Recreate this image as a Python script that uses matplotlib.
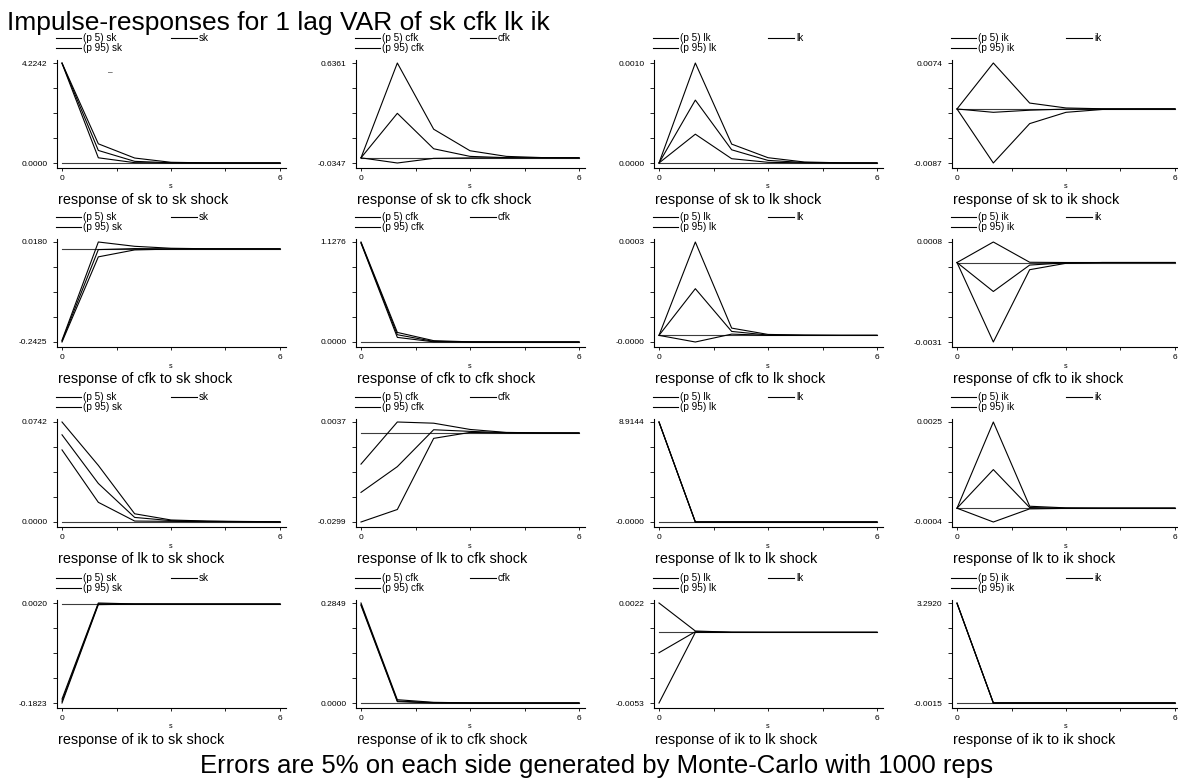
import numpy as np
import matplotlib
matplotlib.use("Agg")
import matplotlib.pyplot as plt
from matplotlib.lines import Line2D

plt.rcParams['font.family'] = ['Liberation Sans', 'DejaVu Sans']

variables = ["sk", "cfk", "lk", "ik"]
steps = [0, 1, 2, 3, 4, 5, 6]
main_title = "Impulse-responses for 1 lag VAR of " + " ".join(variables)
note = "Errors are 5% on each side generated by Monte-Carlo with 1000 reps"

# ---- response of sk ----
sk_sk_p95 = [4.2242, 0.81, 0.21, 0.030, 0.006, 0.002, 0.001]
sk_sk_irf = [4.2180, 0.53, 0.07, 0.010, 0.002, 0.0005, 0.0001]
sk_sk_p5 = [4.2100, 0.22, 0.014, 0.001, 0.0002, 0.0, 0.0]

sk_cfk_p95 = [0.0, 0.6361, 0.192, 0.0475, 0.0097, 0.0015, 0.0003]
sk_cfk_irf = [0.0, 0.2985, 0.0608, 0.0097, 0.0010, 0.0002, 0.0]
sk_cfk_p5 = [0.0, -0.0347, -0.0036, -0.0005, -0.0001, 0.0, 0.0]

sk_lk_p95 = [0.0, 0.00100, 0.000189, 0.000053, 0.000010, 0.000002, 0.0]
sk_lk_irf = [0.0, 0.000629, 0.000132, 0.000026, 0.000005, 0.000001, 0.0]
sk_lk_p5 = [0.0, 0.000288, 0.000043, 0.000007, 0.000001, 0.0, 0.0]

sk_ik_p95 = [0.0, 0.0074, 0.00095, 0.00016, 0.00003, 0.0, 0.0]
sk_ik_irf = [0.0, -0.00054, -0.00020, -0.00002, 0.0, 0.0, 0.0]
sk_ik_p5 = [0.0, -0.0087, -0.00236, -0.00054, -0.00008, -0.00001, 0.0]

# ---- response of cfk ----
cfk_sk_p95 = [-0.2380, 0.0180, 0.0068, 0.0017, 0.0004, 0.0001, 0.0]
cfk_sk_irf = [-0.2400, -0.0018, 0.0008, 0.0002, 0.0, 0.0, 0.0]
cfk_sk_p5 = [-0.2425, -0.0207, -0.0026, -0.0005, -0.0001, 0.0, 0.0]

cfk_cfk_p95 = [1.1276, 0.108, 0.015, 0.002, 0.0003, 0.0, 0.0]
cfk_cfk_irf = [1.1200, 0.082, 0.007, 0.001, 0.0001, 0.0, 0.0]
cfk_cfk_p5 = [1.1150, 0.052, 0.002, 0.0, 0.0, 0.0, 0.0]

cfk_lk_p95 = [0.0, 0.000296, 0.000023, 0.000003, 0.000001, 0.0, 0.0]
cfk_lk_irf = [0.0, 0.000148, 0.0000125, 0.000001, 0.0, 0.0, 0.0]
cfk_lk_p5 = [0.0, -0.000021, 0.000004, 0.0, 0.0, 0.0, 0.0]

cfk_ik_p95 = [0.0, 0.0008, 0.00001, 0.0, 0.0, 0.0, 0.0]
cfk_ik_irf = [0.0, -0.00113, -0.00010, -0.00001, 0.0, 0.0, 0.0]
cfk_ik_p5 = [0.0, -0.0031, -0.00028, -0.00003, 0.0, 0.0, 0.0]

# ---- response of lk ----
lk_sk_p95 = [0.0742, 0.0420, 0.0061, 0.0015, 0.0007, 0.0004, 0.0002]
lk_sk_irf = [0.0647, 0.0286, 0.0034, 0.0010, 0.0005, 0.0002, 0.0001]
lk_sk_p5 = [0.0535, 0.0146, 0.0007, 0.0005, 0.0002, 0.0001, 0.0]

lk_cfk_p95 = [-0.01045, 0.0037, 0.0033, 0.0012, 0.0002, 0.00005, 0.0]
lk_cfk_irf = [-0.01995, -0.0113, 0.0011, 0.00055, 0.0001, 0.0, 0.0]
lk_cfk_p5 = [-0.0299, -0.0257, -0.0018, 0.0002, 0.0, 0.0, 0.0]

lk_lk_p95 = [8.9144, 0.0001, 0.0, 0.0, 0.0, 0.0, 0.0]
lk_lk_irf = [8.9100, 0.0, 0.0, 0.0, 0.0, 0.0, 0.0]
lk_lk_p5 = [8.9050, -0.00002, 0.0, 0.0, 0.0, 0.0, 0.0]

lk_ik_p95 = [0.0, 0.0025, 0.000057, 0.00001, 0.0, 0.0, 0.0]
lk_ik_irf = [0.0, 0.00112, 0.000019, 0.0, 0.0, 0.0, 0.0]
lk_ik_p5 = [0.0, -0.0004, -0.000019, -0.000005, 0.0, 0.0, 0.0]

# ---- response of ik ----
ik_sk_p95 = [-0.1750, 0.0020, 0.0003, 0.0001, 0.0, 0.0, 0.0]
ik_sk_irf = [-0.1790, 0.0006, 0.0001, 0.0, 0.0, 0.0, 0.0]
ik_sk_p5 = [-0.1823, -0.0010, -0.0001, 0.0, 0.0, 0.0, 0.0]

ik_cfk_p95 = [0.2849, 0.0094, 0.0019, 0.0004, 0.0001, 0.0, 0.0]
ik_cfk_irf = [0.2810, 0.0057, 0.0009, 0.0002, 0.0, 0.0, 0.0]
ik_cfk_p5 = [0.2780, 0.0038, 0.0002, 0.0, 0.0, 0.0, 0.0]

ik_lk_p95 = [0.0022, 0.0001, 0.00001, 0.0, 0.0, 0.0, 0.0]
ik_lk_irf = [-0.00153, 0.00005, 0.0, 0.0, 0.0, 0.0, 0.0]
ik_lk_p5 = [-0.0053, 0.0, 0.0, 0.0, 0.0, 0.0, 0.0]

ik_ik_p95 = [3.2920, 0.0030, 0.0005, 0.0, 0.0, 0.0, 0.0]
ik_ik_irf = [3.2850, 0.0005, 0.0, 0.0, 0.0, 0.0, 0.0]
ik_ik_p5 = [3.2780, -0.0015, -0.0002, 0.0, 0.0, 0.0, 0.0]

bands = {
    ("sk", "sk"): (sk_sk_p5, sk_sk_irf, sk_sk_p95),
    ("sk", "cfk"): (sk_cfk_p5, sk_cfk_irf, sk_cfk_p95),
    ("sk", "lk"): (sk_lk_p5, sk_lk_irf, sk_lk_p95),
    ("sk", "ik"): (sk_ik_p5, sk_ik_irf, sk_ik_p95),
    ("cfk", "sk"): (cfk_sk_p5, cfk_sk_irf, cfk_sk_p95),
    ("cfk", "cfk"): (cfk_cfk_p5, cfk_cfk_irf, cfk_cfk_p95),
    ("cfk", "lk"): (cfk_lk_p5, cfk_lk_irf, cfk_lk_p95),
    ("cfk", "ik"): (cfk_ik_p5, cfk_ik_irf, cfk_ik_p95),
    ("lk", "sk"): (lk_sk_p5, lk_sk_irf, lk_sk_p95),
    ("lk", "cfk"): (lk_cfk_p5, lk_cfk_irf, lk_cfk_p95),
    ("lk", "lk"): (lk_lk_p5, lk_lk_irf, lk_lk_p95),
    ("lk", "ik"): (lk_ik_p5, lk_ik_irf, lk_ik_p95),
    ("ik", "sk"): (ik_sk_p5, ik_sk_irf, ik_sk_p95),
    ("ik", "cfk"): (ik_cfk_p5, ik_cfk_irf, ik_cfk_p95),
    ("ik", "lk"): (ik_lk_p5, ik_lk_irf, ik_lk_p95),
    ("ik", "ik"): (ik_ik_p5, ik_ik_irf, ik_ik_p95),
}

# ---- layout (pixels) ----
W, H = 1178, 778
col_x0 = [62, 361, 659, 957]      # pixel of s=0 in each column
row_top = [63, 242, 422, 603]     # pixel of data max in each row
data_w, data_h = 218, 100
pad_l, pad_r, pad_t, pad_b = 5, 6, 3, 5

def fx(px):
    return px / W

def fy(py):
    return 1 - py / H

fig = plt.figure(figsize=(W / 100, H / 100), dpi=100)
fig.patch.set_facecolor("white")

span = steps[-1] - steps[0]
for i, resp in enumerate(variables):
    for j, shock in enumerate(variables):
        p5, irf, p95 = bands[(resp, shock)]
        x0 = col_x0[j]
        yt = row_top[i]
        ax = fig.add_axes([fx(x0 - pad_l), fy(yt + data_h + pad_b),
                           (pad_l + data_w + pad_r) / W,
                           (pad_t + data_h + pad_b) / H])
        allv = np.concatenate([p5, irf, p95, [0.0]])
        ymin, ymax = allv.min(), allv.max()
        rng = ymax - ymin
        ax.set_ylim(ymin - rng * pad_b / data_h, ymax + rng * pad_t / data_h)
        ax.set_xlim(steps[0] - span * pad_l / data_w, steps[-1] + span * pad_r / data_w)

        ax.plot([steps[0], steps[-1]], [0, 0], color="#3c3c3c", lw=0.8, zorder=1)
        for series in (p5, irf, p95):
            ax.plot(steps, series, color="black", lw=0.8, zorder=2)

        for side in ("top", "right"):
            ax.spines[side].set_visible(False)
        for side in ("left", "bottom"):
            ax.spines[side].set_linewidth(0.8)

        xt = np.linspace(steps[0], steps[-1], 5)
        ax.set_xticks(xt)
        ax.set_xticklabels([str(steps[0]), "", "", "", str(steps[-1])])
        yt_vals = np.linspace(ymin, ymax, 5)
        ax.set_yticks(yt_vals)
        ax.set_yticklabels([f"{ymin:.4f}", "", "", "", f"{ymax:.4f}"])
        ax.tick_params(axis="x", direction="out", length=2.5, width=0.6,
                       pad=2.3, labelsize=6)
        ax.tick_params(axis="y", direction="out", length=2.9, width=0.6,
                       pad=4.0, labelsize=6)

        ax.annotate("s", xy=((steps[0] + steps[-1]) / 2, 0),
                    xycoords=ax.get_xaxis_transform(),
                    xytext=(0, -19), textcoords="offset pixels",
                    ha="center", va="center", fontsize=5.2)

        axis_bottom = yt + data_h + pad_b
        fig.text(fx(x0 - 4), fy(axis_bottom + 36),
                 f"response of {resp} to {shock} shock",
                 fontsize=10.4, ha="left", va="baseline")

        # legend
        ly1 = yt - pad_t - 22
        ly2 = yt - pad_t - 12
        entries = [(x0 - 6, x0 + 19, x0 + 21, ly1, f"(p 5) {shock}"),
                   (x0 + 109, x0 + 135, x0 + 137, ly1, shock),
                   (x0 - 6, x0 + 19, x0 + 21, ly2, f"(p 95) {shock}")]
        for xa, xb, xtxt, yy, lab in entries:
            fig.add_artist(Line2D([fx(xa), fx(xb)], [fy(yy), fy(yy)],
                                  transform=fig.transFigure,
                                  color="black", lw=0.8))
            fig.text(fx(xtxt), fy(yy), lab, fontsize=7.2,
                     ha="left", va="center")

fig.text(fx(110), fy(73), "\u2013", fontsize=6, ha="center", va="center")

fig.text(fx(7), fy(30), main_title, fontsize=19, ha="left", va="baseline")
fig.text(fx(597), fy(773), note, fontsize=18.5, ha="center", va="baseline")

fig.savefig("out.png", dpi=100, facecolor="white")
